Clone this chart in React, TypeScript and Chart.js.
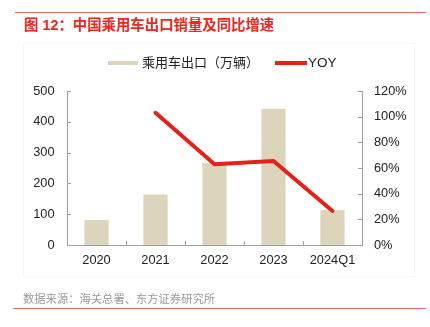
import React, { useEffect, useRef } from "react";
import { Chart, registerables } from "chart.js";

Chart.register(...registerables);

const categories = ["2020", "2021", "2022", "2023", "2024Q1"];
const exportVolume = [81, 164, 266, 442, 113];
const yoyPercent = [null, 103, 63, 65.5, 26.5];
const leftTicks = [0, 100, 200, 300, 400, 500];
const rightTicks = [0, 20, 40, 60, 80, 100, 120];

const TITLE = "图 12：中国乘用车出口销量及同比增速";
const BAR_LABEL = "乘用车出口（万辆）";
const LINE_LABEL = "YOY";
const SOURCE = "数据来源：海关总署、东方证券研究所";

const BAR_COLOR = "#ddd4bc";
const LINE_COLOR = "#e3221c";
const AXIS_COLOR = "#a0a0a0";
const FONT = '"Liberation Sans", "Noto Sans CJK SC", sans-serif';

const inwardTicks = {
  id: "inwardTicks",
  beforeDatasetsDraw(chart: any) {
    const ctx = chart.ctx;
    const { left, right, bottom } = chart.chartArea;
    ctx.save();
    ctx.strokeStyle = AXIS_COLOR;
    ctx.lineWidth = 1;
    ctx.beginPath();
    const y = chart.scales.y;
    y.ticks.forEach((_t: any, i: number) => {
      const p = Math.round(y.getPixelForTick(i)) + 0.5;
      ctx.moveTo(left, p);
      ctx.lineTo(left + 4, p);
    });
    const y1 = chart.scales.y1;
    y1.ticks.forEach((_t: any, i: number) => {
      const p = Math.round(y1.getPixelForTick(i)) + 0.5;
      ctx.moveTo(right, p);
      ctx.lineTo(right - 4, p);
    });
    const x = chart.scales.x;
    const n = x.ticks.length;
    for (let i = 1; i < n; i++) {
      const p = Math.round((x.getPixelForTick(i - 1) + x.getPixelForTick(i)) / 2) + 0.5;
      ctx.moveTo(p, bottom);
      ctx.lineTo(p, bottom - 4);
    }
    ctx.stroke();
    ctx.restore();
  },
};

export default function App() {
  const canvasRef = useRef<HTMLCanvasElement | null>(null);

  useEffect(() => {
    document.body.style.margin = "0";
    const canvas = canvasRef.current;
    if (!canvas) return;
    const chart = new Chart(canvas, {
      type: "bar",
      data: {
        labels: categories,
        datasets: [
          {
            type: "line",
            label: LINE_LABEL,
            data: yoyPercent as any,
            yAxisID: "y1",
            borderColor: LINE_COLOR,
            backgroundColor: LINE_COLOR,
            borderWidth: 4,
            pointRadius: 0,
            pointHoverRadius: 0,
            tension: 0,
            borderJoinStyle: "round",
            borderCapStyle: "round",
            order: 0,
          } as any,
          {
            type: "bar",
            label: BAR_LABEL,
            data: exportVolume,
            yAxisID: "y",
            backgroundColor: BAR_COLOR,
            borderWidth: 0,
            barPercentage: 0.41,
            categoryPercentage: 1,
            order: 1,
          },
        ],
      },
      options: {
        responsive: false,
        animation: false,
        devicePixelRatio: 1,
        layout: { padding: { top: 91, left: 0, right: 0, bottom: 0 } },
        plugins: {
          legend: { display: false },
          tooltip: { enabled: false },
        },
        scales: {
          x: {
            type: "category",
            offset: true,
            grid: { display: false, offset: true, drawTicks: false },
            border: { display: true, color: AXIS_COLOR, width: 1 },
            ticks: {
              color: "#222",
              font: { family: FONT, size: 12.8 },
              padding: 8,
              maxRotation: 0,
              autoSkip: false,
            },
            afterFit: (s: any) => {
              s.height = 82;
            },
          },
          y: {
            type: "linear",
            position: "left",
            min: 0,
            max: 500,
            afterBuildTicks: (s: any) => {
              s.ticks = leftTicks.map((v) => ({ value: v }));
            },
            grid: { display: false, drawTicks: false },
            border: { display: true, color: AXIS_COLOR, width: 1 },
            ticks: {
              color: "#222",
              font: { family: FONT, size: 12.8 },
              padding: 12.5,
            },
            afterFit: (s: any) => {
              s.width = 67;
            },
          },
          y1: {
            type: "linear",
            position: "right",
            min: 0,
            max: 120,
            afterBuildTicks: (s: any) => {
              s.ticks = rightTicks.map((v) => ({ value: v }));
            },
            grid: { display: false, drawTicks: false },
            border: { display: true, color: AXIS_COLOR, width: 1 },
            ticks: {
              color: "#222",
              font: { family: FONT, size: 12.8 },
              padding: 12,
              callback: (v: any) => v + "%",
            },
            afterFit: (s: any) => {
              s.width = 68;
            },
          },
        },
      },
      plugins: [inwardTicks],
    });
    return () => chart.destroy();
  }, []);

  return (
    <div
      style={{
        position: "absolute",
        left: 0,
        top: 0,
        width: 430,
        height: 327,
        background: "#fff",
        fontFamily: FONT,
        overflow: "hidden",
      }}
    >
      <div style={{ position: "absolute", left: 15, top: 12, width: 411, height: 1, background: "#ef6a62" }} />
      <div
        style={{
          position: "absolute",
          left: 24,
          top: 17,
          fontSize: 14.4,
          lineHeight: "16px",
          fontWeight: "bold",
          color: "#e52b23",
          whiteSpace: "nowrap",
        }}
      >
        {TITLE}
      </div>
      <div
        style={{
          position: "absolute",
          left: 23,
          top: 43,
          width: 392,
          height: 234,
          border: "1px solid #f6f6f6",
          boxSizing: "border-box",
        }}
      />
      <canvas ref={canvasRef} width={430} height={327} style={{ position: "absolute", left: 0, top: 0, width: 430, height: 327 }} />
      <div style={{ position: "absolute", left: 108, top: 61, width: 30, height: 4, background: BAR_COLOR }} />
      <div
        style={{
          position: "absolute",
          left: 142,
          top: 54,
          fontSize: 13,
          lineHeight: "17px",
          color: "#222",
          whiteSpace: "nowrap",
        }}
      >
        {BAR_LABEL}
      </div>
      <div style={{ position: "absolute", left: 275, top: 61, width: 32, height: 4, background: LINE_COLOR }} />
      <div
        style={{
          position: "absolute",
          left: 308,
          top: 54,
          fontSize: 13.5,
          lineHeight: "17px",
          color: "#222",
          whiteSpace: "nowrap",
        }}
      >
        {LINE_LABEL}
      </div>
      <div
        style={{
          position: "absolute",
          left: 23,
          top: 292,
          fontSize: 11.3,
          lineHeight: "15px",
          color: "#9a9a9a",
          whiteSpace: "nowrap",
        }}
      >
        {SOURCE}
      </div>
      <div style={{ position: "absolute", left: 13, top: 308, width: 413, height: 1, background: "#ef6a62" }} />
    </div>
  );
}
